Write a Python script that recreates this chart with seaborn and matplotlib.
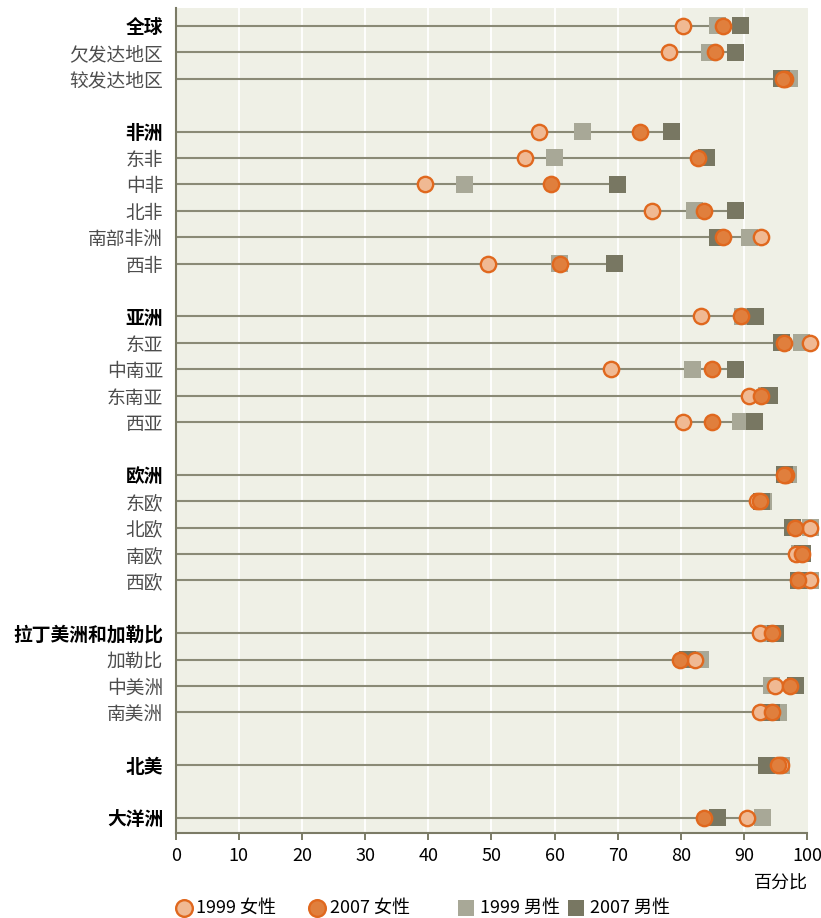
import numpy as np
import pandas as pd
import matplotlib
matplotlib.use("Agg")
import matplotlib.pyplot as plt
from matplotlib.lines import Line2D
import seaborn as sns

# Regions, grouped by continent (header row first in each group)
regions = ["全球", "欠发达地区", "较发达地区",
           "非洲", "东非", "中非", "北非", "南部非洲", "西非",
           "亚洲", "东亚", "中南亚", "东南亚", "西亚",
           "欧洲", "东欧", "北欧", "南欧", "西欧",
           "拉丁美洲和加勒比", "加勒比", "中美洲", "南美洲",
           "北美",
           "大洋洲"]
group_id = [0, 0, 0,
            1, 1, 1, 1, 1, 1,
            2, 2, 2, 2, 2,
            3, 3, 3, 3, 3,
            4, 4, 4, 4,
            5,
            6]
is_header = [True, False, False,
             True, False, False, False, False, False,
             True, False, False, False, False,
             True, False, False, False, False,
             True, False, False, False,
             True,
             True]

# Enrolment ratio (percent)
female_1999 = [80.4, 78.1, 96.5, 57.6, 55.3, 39.4, 75.4, 92.7, 49.4,
               83.1, 100.4, 69.0, 90.8, 80.4,
               96.6, 92.1, 100.4, 98.3, 100.4,
               92.6, 82.2, 94.9, 92.6, 95.9, 90.5]
female_2007 = [86.7, 85.4, 96.1, 73.5, 82.7, 59.4, 83.6, 86.7, 60.8,
               89.5, 96.3, 84.9, 92.7, 84.9,
               96.4, 92.6, 98.0, 99.1, 98.6,
               94.5, 79.9, 97.3, 94.5, 95.3, 83.6]
male_1999 = [85.8, 84.5, 97.2, 64.4, 60.0, 45.7, 82.1, 90.9, 60.8,
             89.8, 99.1, 81.8, 93.5, 89.4,
             97.1, 93.1, 100.5, 98.8, 100.5,
             94.0, 83.1, 94.4, 95.4, 95.9, 92.9]
male_2007 = [89.4, 88.6, 95.9, 78.5, 84.1, 69.9, 88.6, 85.8, 69.5,
             91.8, 95.9, 88.6, 94.0, 91.7,
             96.4, 92.8, 97.6, 99.3, 98.6,
             95.0, 81.0, 98.1, 94.4, 93.5, 85.8]

x_ticks = [0, 10, 20, 30, 40, 50, 60, 70, 80, 90, 100]
x_label = "百分比"
series_labels = ["1999 女性", "2007 女性", "1999 男性", "2007 男性"]

# Colours
BG = "#eff0e6"
STEM = "#8a8a76"
SPINE = "#7b7b66"
ORANGE_EDGE = "#e0681e"
F1999 = "#f0b993"
F2007 = "#e07f3d"
M1999 = "#a8a897"
M2007 = "#787762"

sns.set_theme(style="white")
plt.rcParams["font.family"] = ["Liberation Sans Narrow", "Noto Sans CJK SC", "DejaVu Sans"]
CJK = ["Noto Sans CJK SC", "DejaVu Sans"]
MIXED = ["Liberation Sans Narrow", "Noto Sans CJK SC", "DejaVu Sans"]

# Row positions: one empty row between groups
ypos = [i + g for i, g in enumerate(group_id)]

df = pd.DataFrame({
    "region": regions,
    "y": ypos,
    "f1999": female_1999,
    "f2007": female_2007,
    "m1999": male_1999,
    "m2007": male_2007,
})
df["xmax"] = df[["f1999", "f2007", "m1999", "m2007"]].max(axis=1)

W, H = 821, 918
fig = plt.figure(figsize=(W / 100, H / 100), dpi=100)
ax = fig.add_axes([0.214, 0.0926, 0.984 - 0.214, 0.9913 - 0.0926])
ax.set_facecolor(BG)

# vertical white grid
for gx in x_ticks[1:-1]:
    ax.axvline(gx, color="white", lw=1.3, zorder=0)

# stems from zero to the highest value in each row
ax.hlines(df["y"], 0, df["xmax"], color=STEM, lw=1.5, zorder=1)

sq = 150
ci = 122
sns.scatterplot(data=df, x="m1999", y="y", ax=ax, marker="s", s=sq, color=M1999,
                edgecolor="none", linewidth=0, zorder=3, clip_on=False)
sns.scatterplot(data=df, x="m2007", y="y", ax=ax, marker="s", s=sq, color=M2007,
                edgecolor="none", linewidth=0, zorder=4, clip_on=False)
sns.scatterplot(data=df, x="f1999", y="y", ax=ax, marker="o", s=ci, color=F1999,
                edgecolor=ORANGE_EDGE, linewidth=1.7, zorder=5, clip_on=False)
sns.scatterplot(data=df, x="f2007", y="y", ax=ax, marker="o", s=ci, color=F2007,
                edgecolor=ORANGE_EDGE, linewidth=1.7, zorder=6, clip_on=False)

ax.set_xlim(0, 100.1)
ax.set_ylim(30.57, -0.68)
ax.set_xlabel("")
ax.set_ylabel("")

# y labels
ax.set_yticks(ypos)
ax.set_yticklabels(regions)
for lab, hdr in zip(ax.get_yticklabels(), is_header):
    lab.set_fontfamily(CJK)
    lab.set_fontsize(13.5)
    if hdr:
        lab.set_fontweight("bold")
        lab.set_color("black")
    else:
        lab.set_color("#4d4d4d")
ax.tick_params(axis="y", length=0, pad=9)

# x axis
ax.set_xticks(x_ticks)
ax.set_xticklabels([str(t) for t in x_ticks])
ax.tick_params(axis="x", direction="out", length=5, width=1.4, color=SPINE,
               labelsize=13, pad=5, labelcolor="black", bottom=True)

for side in ["top", "right"]:
    ax.spines[side].set_visible(False)
for side in ["left", "bottom"]:
    ax.spines[side].set_visible(True)
    ax.spines[side].set_color(SPINE)
    ax.spines[side].set_linewidth(1.5)
ax.spines["bottom"].set_bounds(0, 100)

fig.text(0.984, 1 - 884 / H, x_label, ha="right", va="center",
         fontsize=13, family=CJK, color="black")

# legend row along the bottom of the figure
legend_y = 1 - 908 / H
legend_items = [
    dict(marker="o", face=F1999, edge=ORANGE_EDGE, mx=184, tx=196),
    dict(marker="o", face=F2007, edge=ORANGE_EDGE, mx=317, tx=330),
    dict(marker="s", face=M1999, edge="none", mx=466, tx=480),
    dict(marker="s", face=M2007, edge="none", mx=576, tx=590),
]
for item, text in zip(legend_items, series_labels):
    fig.add_artist(Line2D([item["mx"] / W], [legend_y], transform=fig.transFigure,
                          ls="none", marker=item["marker"],
                          markersize=12 if item["marker"] == "o" else 11.5,
                          markerfacecolor=item["face"], markeredgecolor=item["edge"],
                          markeredgewidth=1.7 if item["marker"] == "o" else 0))
    fig.text(item["tx"] / W, legend_y, text, ha="left", va="center",
             fontsize=13, family=MIXED, color="black")

fig.savefig("out.png", dpi=100, facecolor="white")
